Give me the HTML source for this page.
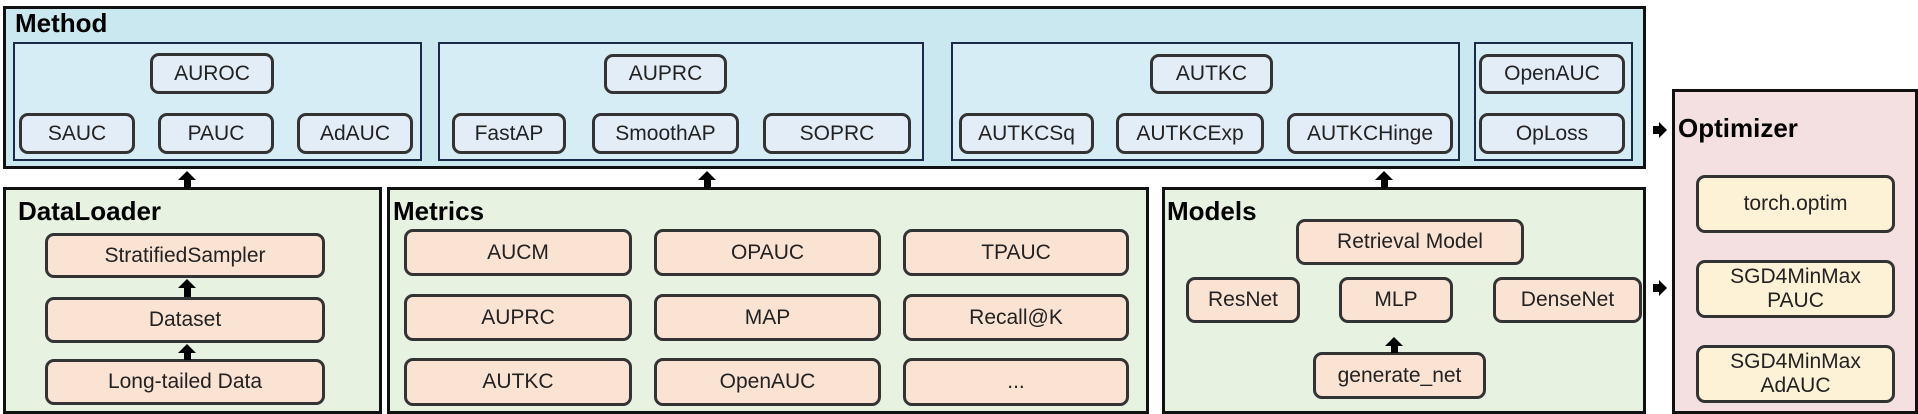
<!DOCTYPE html>
<html><head><meta charset="utf-8"><style>
body{margin:0;width:1918px;height:414px;background:#fff;position:relative;overflow:hidden;font-family:"Liberation Sans",sans-serif;}
.a{position:absolute;box-sizing:border-box;}
.outer{border:3px solid #111;}
.sub{border:2px solid #1c2a4a;background:#d6edf5;}
.b{position:absolute;box-sizing:border-box;border:3px solid #333;border-radius:9px;display:flex;align-items:center;justify-content:center;text-align:center;font-size:21px;color:#222;line-height:24px;}
.m{background:#e3edf8;}
.p{background:#fbe3d4;}
.y{background:#fdf1d6;}
.t{position:absolute;font-weight:bold;font-size:26px;color:#000;}
.up{position:absolute;width:0;height:0;border-left:9px solid transparent;border-right:9px solid transparent;border-bottom:9px solid #000;}
.sh{position:absolute;width:7px;background:#000;}
.rt{position:absolute;width:0;height:0;border-top:8px solid transparent;border-bottom:8px solid transparent;border-left:8px solid #000;}
.rs{position:absolute;height:8px;background:#000;}
</style></head><body>
<div class="a outer" style="left:3px;top:6px;width:1643px;height:163px;background:#c9e8f0"></div>
<div class="t" style="left:15px;top:8px">Method</div>
<div class="a sub" style="left:13px;top:42px;width:409px;height:119px"></div>
<div class="a sub" style="left:438px;top:42px;width:486px;height:119px"></div>
<div class="a sub" style="left:951px;top:42px;width:509px;height:119px"></div>
<div class="a sub" style="left:1474px;top:42px;width:159px;height:119px"></div>

<div class="b m" style="left:150px;top:53px;width:124px;height:41px">AUROC</div>
<div class="b m" style="left:19px;top:113px;width:116px;height:41px">SAUC</div>
<div class="b m" style="left:158px;top:113px;width:116px;height:41px">PAUC</div>
<div class="b m" style="left:297px;top:113px;width:116px;height:41px">AdAUC</div>
<div class="b m" style="left:604px;top:54px;width:123px;height:40px">AUPRC</div>
<div class="b m" style="left:452px;top:113px;width:114px;height:41px">FastAP</div>
<div class="b m" style="left:592px;top:113px;width:147px;height:41px">SmoothAP</div>
<div class="b m" style="left:763px;top:113px;width:148px;height:41px">SOPRC</div>
<div class="b m" style="left:1150px;top:54px;width:123px;height:40px">AUTKC</div>
<div class="b m" style="left:959px;top:113px;width:135px;height:41px">AUTKCSq</div>
<div class="b m" style="left:1116px;top:113px;width:148px;height:41px">AUTKCExp</div>
<div class="b m" style="left:1287px;top:113px;width:166px;height:41px">AUTKCHinge</div>
<div class="b m" style="left:1479px;top:54px;width:146px;height:40px">OpenAUC</div>
<div class="b m" style="left:1479px;top:113px;width:146px;height:41px">OpLoss</div>

<div class="a outer" style="left:3px;top:187px;width:379px;height:227px;background:#e8f2e1"></div>
<div class="t" style="left:18px;top:196px">DataLoader</div>
<div class="b p" style="left:45px;top:233px;width:280px;height:45px">StratifiedSampler</div>
<div class="b p" style="left:45px;top:297px;width:280px;height:46px">Dataset</div>
<div class="b p" style="left:45px;top:359px;width:280px;height:46px">Long-tailed Data</div>

<div class="a outer" style="left:387px;top:187px;width:762px;height:227px;background:#e8f2e1"></div>
<div class="t" style="left:393px;top:196px">Metrics</div>
<div class="b p" style="left:404px;top:229px;width:228px;height:47px">AUCM</div>
<div class="b p" style="left:654px;top:229px;width:227px;height:47px">OPAUC</div>
<div class="b p" style="left:903px;top:229px;width:226px;height:47px">TPAUC</div>
<div class="b p" style="left:404px;top:294px;width:228px;height:47px">AUPRC</div>
<div class="b p" style="left:654px;top:294px;width:227px;height:47px">MAP</div>
<div class="b p" style="left:903px;top:294px;width:226px;height:47px">Recall@K</div>
<div class="b p" style="left:404px;top:358px;width:228px;height:48px">AUTKC</div>
<div class="b p" style="left:654px;top:358px;width:227px;height:48px">OpenAUC</div>
<div class="b p" style="left:903px;top:358px;width:226px;height:48px">...</div>

<div class="a outer" style="left:1162px;top:187px;width:484px;height:227px;background:#e8f2e1"></div>
<div class="t" style="left:1167px;top:196px">Models</div>
<div class="b p" style="left:1296px;top:219px;width:228px;height:46px">Retrieval Model</div>
<div class="b p" style="left:1186px;top:277px;width:114px;height:46px">ResNet</div>
<div class="b p" style="left:1339px;top:277px;width:114px;height:46px">MLP</div>
<div class="b p" style="left:1493px;top:277px;width:149px;height:46px">DenseNet</div>
<div class="b p" style="left:1313px;top:352px;width:173px;height:47px">generate_net</div>

<div class="a outer" style="left:1672px;top:89px;width:246px;height:325px;background:#f4e0e1"></div>
<div class="t" style="left:1678px;top:113px">Optimizer</div>
<div class="b y" style="left:1696px;top:175px;width:199px;height:58px">torch.optim</div>
<div class="b y" style="left:1696px;top:260px;width:199px;height:58px">SGD4MinMax<br>PAUC</div>
<div class="b y" style="left:1696px;top:345px;width:199px;height:58px">SGD4MinMax<br>AdAUC</div>

<div class="up" style="left:178px;top:171px"></div><div class="sh" style="left:184px;top:179px;height:9px"></div>
<div class="up" style="left:698px;top:171px"></div><div class="sh" style="left:704px;top:179px;height:9px"></div>
<div class="up" style="left:1375px;top:171px"></div><div class="sh" style="left:1381px;top:179px;height:9px"></div>
<div class="up" style="left:178px;top:279px"></div><div class="sh" style="left:184px;top:287px;height:10px"></div>
<div class="up" style="left:178px;top:344px"></div><div class="sh" style="left:184px;top:352px;height:8px"></div>
<div class="up" style="left:1385px;top:337px"></div><div class="sh" style="left:1391px;top:345px;height:8px"></div>
<div class="rs" style="left:1653px;top:126px;width:6px"></div><div class="rt" style="left:1659px;top:122px"></div>
<div class="rs" style="left:1653px;top:284px;width:6px"></div><div class="rt" style="left:1659px;top:280px"></div>
</body></html>
